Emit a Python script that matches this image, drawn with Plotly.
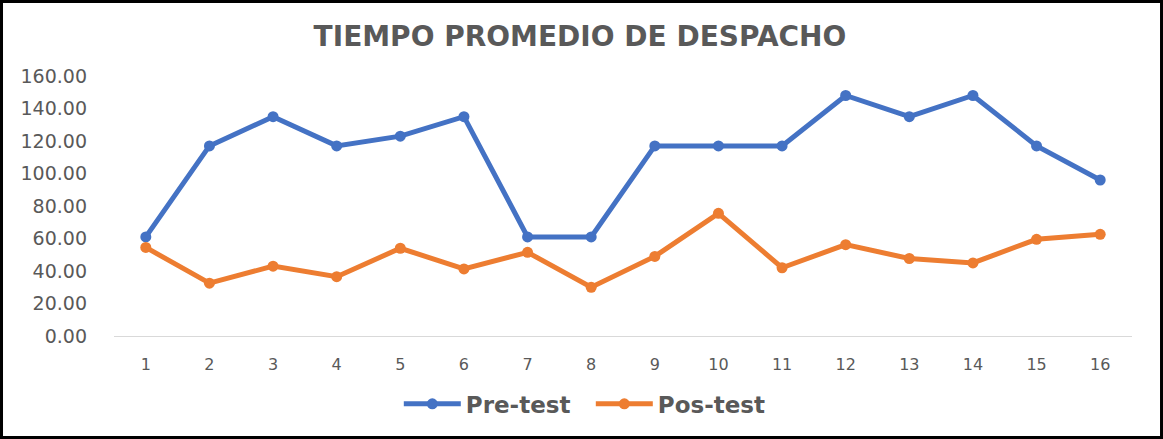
import plotly.graph_objects as go

dias = list(range(1, 17))
pre_test = [61, 117, 135, 117, 123, 135, 61, 61, 117, 117, 117, 148, 135, 148, 117, 96]
pos_test = [54.5, 32.5, 43, 36.5, 54, 41.3, 51.5, 30, 49, 75.5, 42, 56.2, 47.7, 45, 59.5, 62.6]

GRIS = "#595959"
FONT = "DejaVu Sans"

fig = go.Figure()
fig.add_trace(go.Scatter(x=dias, y=pre_test, name="Pre-test", mode="lines+markers",
                         line=dict(color="#4472C4", width=5), marker=dict(size=11)))
fig.add_trace(go.Scatter(x=dias, y=pos_test, name="Pos-test", mode="lines+markers",
                         line=dict(color="#ED7D31", width=5), marker=dict(size=11)))

# marco negro alrededor de la imagen
fig.add_shape(type="rect", xref="paper", yref="paper",
              x0=-0.1105, x1=1.029, y0=-0.3904, y1=1.2865,
              line=dict(color="black", width=3), fillcolor="rgba(0,0,0,0)")

fig.update_layout(
    width=1163, height=439,
    margin=dict(l=114, r=31, t=76, b=103),
    paper_bgcolor="white", plot_bgcolor="white",
    title=dict(text="<b>TIEMPO PROMEDIO DE DESPACHO</b>", x=0.4987, xref="container",
               y=0.918, yref="container", xanchor="center", yanchor="middle",
               font=dict(family=FONT, size=28, color=GRIS)),
    legend=dict(orientation="h", xref="container", yref="container", x=0.508, y=0.08,
                xanchor="center", yanchor="middle", itemwidth=57, entrywidth=120,
                font=dict(family=FONT, size=23, color=GRIS, weight="bold")),
    xaxis=dict(range=[0.5, 16.5], tickmode="array", tickvals=dias, ticktext=[str(d) for d in dias],
               showgrid=False, zeroline=False, showline=True, linecolor="#D9D9D9", linewidth=1,
               ticks="", ticklabelstandoff=14, automargin=False,
               tickfont=dict(family=FONT, size=16, color=GRIS)),
    yaxis=dict(range=[0, 160], dtick=20, tickformat=".2f", showgrid=False, zeroline=False,
               showline=False, ticks="", ticklabelstandoff=26, automargin=False,
               tickfont=dict(family=FONT, size=19, color=GRIS)),
)

fig.write_html("out.html", config={"displayModeBar": False},
               post_script="document.body.style.margin='0';document.body.style.overflow='hidden';")
